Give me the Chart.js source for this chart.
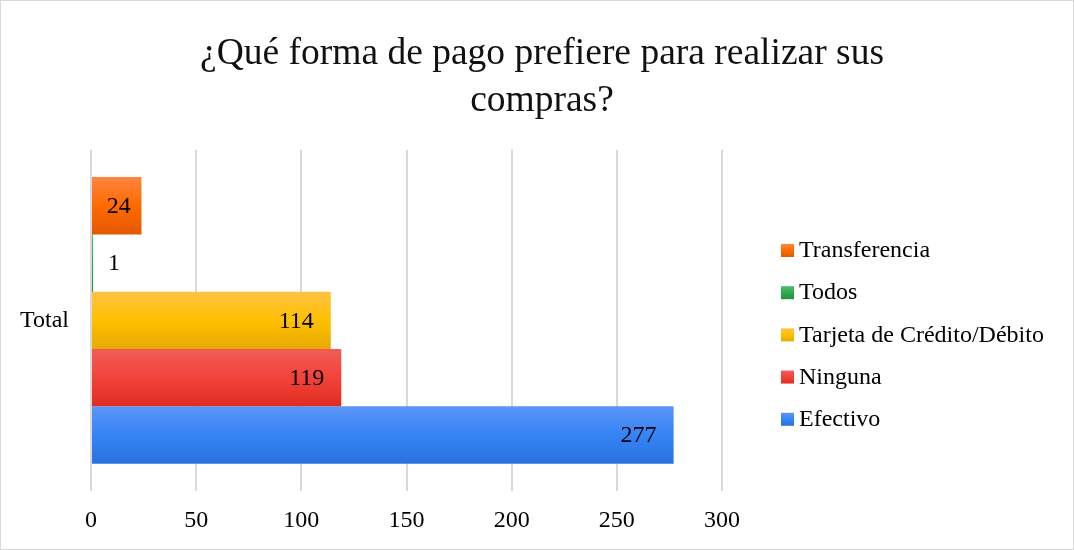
<!DOCTYPE html>
<html>
<head>
<meta charset="utf-8">
<script src="https://cdn.jsdelivr.net/npm/chart.js@4/dist/chart.umd.min.js"></script>
<style>
    html, body { margin: 0; padding: 0; background: #fff; }
    #wrap {
        width: 1072px; height: 548px;
        border: 1px solid #d9d9d9;
        position: relative;
    }
</style>
</head>
<body>
<div id="wrap"><canvas id="chart" width="1072" height="548"></canvas></div>
<script>
// --- Data ---
const categories = ['Total'];
const seriesNames = ['Transferencia', 'Todos', 'Tarjeta de Crédito/Débito', 'Ninguna', 'Efectivo'];
const seriesValues = [24, 1, 114, 119, 277];
// couleurs : [haut, milieu, bas] du dégradé
const seriesColors = [
    ['#ff8540', '#ff6a00', '#e35800'],
    ['#4cc06a', '#2ea84f', '#23913f'],
    ['#ffc244', '#ffc000', '#e8aa00'],
    ['#ef5d58', '#f2433a', '#df2c20'],
    ['#5c95f7', '#3584f5', '#2b72df']
];
const xTickMax = 300;
const xTickStep = 50;

const FONT = "'Liberation Serif', 'Times New Roman', serif";
const TXT_SIZE = 24;

function makeGradient(ctx, top, h, c) {
    const g = ctx.createLinearGradient(0, top, 0, top + h);
    g.addColorStop(0, c[0]);
    g.addColorStop(0.5, c[1]);
    g.addColorStop(1, c[2]);
    return g;
}

// --- Plugins ---
// Dégradé vertical sur chaque barre
const gradientBars = {
    id: 'gradientBars',
    beforeDatasetsDraw(chart) {
        chart.data.datasets.forEach((ds, i) => {
            chart.getDatasetMeta(i).data.forEach(el => {
                el.options.backgroundColor = makeGradient(chart.ctx, el.y - el.height / 2, el.height, seriesColors[i]);
            });
        });
    }
};

// Étiquettes de valeurs
const valueLabels = {
    id: 'valueLabels',
    afterDatasetsDraw(chart) {
        const ctx = chart.ctx;
        ctx.save();
        ctx.font = TXT_SIZE + 'px ' + FONT;
        ctx.fillStyle = '#000';
        ctx.textBaseline = 'middle';
        chart.data.datasets.forEach((ds, i) => {
            chart.getDatasetMeta(i).data.forEach((el, j) => {
                const txt = String(ds.data[j]);
                const w = ctx.measureText(txt).width;
                const barW = el.x - el.base;
                if (barW >= w + 34) {
                    ctx.textAlign = 'right';
                    ctx.fillText(txt, el.x - 17, el.y + 1);
                } else if (barW >= w + 10) {
                    ctx.textAlign = 'center';
                    ctx.fillText(txt, (el.x + el.base) / 2 + 2, el.y + 1);
                } else {
                    ctx.textAlign = 'left';
                    ctx.fillText(txt, el.x + 15, el.y + 1);
                }
            });
        });
        ctx.restore();
    }
};

// Légende à droite (dessinée à la main pour coller au modèle)
const sideLegend = {
    id: 'sideLegend',
    afterDraw(chart) {
        const ctx = chart.ctx;
        const area = chart.chartArea;
        const x = area.right + 59;
        const step = 42.2;
        const midY = (area.top + area.bottom) / 2 + 14;
        const startY = midY - step * (seriesNames.length - 1) / 2;
        ctx.save();
        ctx.font = TXT_SIZE + 'px ' + FONT;
        ctx.textBaseline = 'middle';
        ctx.textAlign = 'left';
        seriesNames.forEach((name, i) => {
            const y = startY + i * step;
            ctx.fillStyle = makeGradient(ctx, y - 6, 13, seriesColors[i]);
            ctx.fillRect(x, y - 6, 13, 13);
            ctx.fillStyle = '#000';
            ctx.fillText(name, x + 18, y + 1);
        });
        ctx.restore();
    }
};

// --- Chart ---
const datasets = seriesNames.map((name, i) => ({
    label: name,
    data: [seriesValues[i]],
    backgroundColor: seriesColors[i][1],
    borderWidth: 0
}));

new Chart(document.getElementById('chart'), {
    type: 'bar',
    data: { labels: categories, datasets: datasets },
    options: {
        indexAxis: 'y',
        responsive: false,
        animation: false,
        datasets: {
            bar: { categoryPercentage: 0.84, barPercentage: 1.0 }
        },
        layout: { padding: { left: 10, right: 0, top: 0, bottom: 0 } },
        scales: {
            x: {
                min: 0, max: xTickMax,
                ticks: { stepSize: xTickStep, color: '#000', font: { family: FONT, size: TXT_SIZE }, padding: 15 },
                grid: { color: '#d9d9d9', lineWidth: 2, drawTicks: false },
                border: { display: false },
                afterFit(scale) { scale.height = 58; }
            },
            y: {
                ticks: { color: '#000', font: { family: FONT, size: TXT_SIZE }, padding: 22 },
                grid: { display: false, drawTicks: false },
                border: { display: false },
                afterFit(scale) { scale.width = 80; }
            },
            // axe vide à droite : réserve la place de la légende
            yLegend: {
                type: 'category',
                axis: 'y',
                position: 'right',
                ticks: { display: false },
                grid: { display: false, drawTicks: false },
                border: { display: false },
                afterFit(scale) { scale.width = 351; }
            }
        },
        plugins: {
            title: {
                display: true,
                text: ['¿Qué forma de pago prefiere para realizar sus', 'compras?'],
                color: '#111',
                font: { family: FONT, size: 37.5, weight: 'normal', lineHeight: 1.25 },
                padding: { top: 30, bottom: 25 }
            },
            legend: { display: false },
            tooltip: { enabled: false }
        }
    },
    plugins: [gradientBars, valueLabels, sideLegend]
});
</script>
</body>
</html>
